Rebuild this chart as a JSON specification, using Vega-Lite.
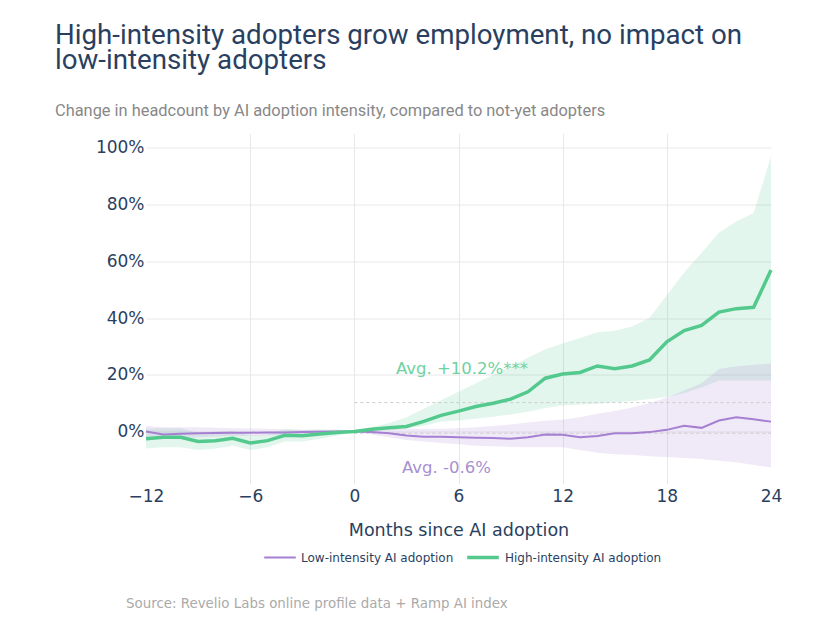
{
  "$schema": "https://vega.github.io/schema/vega-lite/v6.json",
  "background": "white",
  "padding": {"left": 55, "top": 21.5, "right": 10, "bottom": 5},
  "config": {"view": {"stroke": null}, "font": "DejaVu Sans"},
  "title": {"text": "Source: Revelio Labs online profile data + Ramp AI index", "orient": "bottom", "anchor": "start", "frame": "group", "font": "DejaVu Sans", "fontSize": 13.4, "fontWeight": "normal", "color": "#aaaaaa", "offset": 32, "dx": -20},
  "resolve": {"scale": {"color": "independent", "strokeWidth": "independent"}, "legend": {"color": "independent", "strokeWidth": "independent"}},
  "datasets": {
    "d": [
      {"m": -12, "s": "Low-intensity AI adoption", "v": 0, "lo": -2, "hi": 2},
      {"m": -11, "s": "Low-intensity AI adoption", "v": -1, "lo": -2.5, "hi": 1.5},
      {"m": -10, "s": "Low-intensity AI adoption", "v": -0.8, "lo": -2.2, "hi": 1.5},
      {"m": -9, "s": "Low-intensity AI adoption", "v": -0.6, "lo": -2, "hi": 1.5},
      {"m": -8, "s": "Low-intensity AI adoption", "v": -0.5, "lo": -1.8, "hi": 1.3},
      {"m": -7, "s": "Low-intensity AI adoption", "v": -0.4, "lo": -1.6, "hi": 1.2},
      {"m": -6, "s": "Low-intensity AI adoption", "v": -0.4, "lo": -1.6, "hi": 1.1},
      {"m": -5, "s": "Low-intensity AI adoption", "v": -0.3, "lo": -1.4, "hi": 1},
      {"m": -4, "s": "Low-intensity AI adoption", "v": -0.3, "lo": -1.3, "hi": 0.8},
      {"m": -3, "s": "Low-intensity AI adoption", "v": -0.2, "lo": -1.1, "hi": 0.7},
      {"m": -2, "s": "Low-intensity AI adoption", "v": -0.1, "lo": -0.9, "hi": 0.6},
      {"m": -1, "s": "Low-intensity AI adoption", "v": 0, "lo": -0.5, "hi": 0.4},
      {"m": 0, "s": "Low-intensity AI adoption", "v": 0, "lo": 0, "hi": 0},
      {"m": 1, "s": "Low-intensity AI adoption", "v": -0.2, "lo": -1, "hi": 0.5},
      {"m": 2, "s": "Low-intensity AI adoption", "v": -0.6, "lo": -2, "hi": 0.8},
      {"m": 3, "s": "Low-intensity AI adoption", "v": -1.4, "lo": -3, "hi": 1},
      {"m": 4, "s": "Low-intensity AI adoption", "v": -1.8, "lo": -3.5, "hi": 1},
      {"m": 5, "s": "Low-intensity AI adoption", "v": -1.8, "lo": -4, "hi": 1},
      {"m": 6, "s": "Low-intensity AI adoption", "v": -2, "lo": -4.5, "hi": 1.2},
      {"m": 7, "s": "Low-intensity AI adoption", "v": -2.2, "lo": -5, "hi": 1.5},
      {"m": 8, "s": "Low-intensity AI adoption", "v": -2.3, "lo": -5.2, "hi": 2},
      {"m": 9, "s": "Low-intensity AI adoption", "v": -2.5, "lo": -5.4, "hi": 2.5},
      {"m": 10, "s": "Low-intensity AI adoption", "v": -2, "lo": -5.5, "hi": 3.2},
      {"m": 11, "s": "Low-intensity AI adoption", "v": -1, "lo": -5.5, "hi": 3.8},
      {"m": 12, "s": "Low-intensity AI adoption", "v": -1.1, "lo": -5.5, "hi": 4.2},
      {"m": 13, "s": "Low-intensity AI adoption", "v": -2, "lo": -6.5, "hi": 5},
      {"m": 14, "s": "Low-intensity AI adoption", "v": -1.6, "lo": -7.5, "hi": 6.3},
      {"m": 15, "s": "Low-intensity AI adoption", "v": -0.6, "lo": -8, "hi": 7.2},
      {"m": 16, "s": "Low-intensity AI adoption", "v": -0.6, "lo": -8.3, "hi": 8.5},
      {"m": 17, "s": "Low-intensity AI adoption", "v": -0.2, "lo": -8.7, "hi": 10},
      {"m": 18, "s": "Low-intensity AI adoption", "v": 0.6, "lo": -9, "hi": 12},
      {"m": 19, "s": "Low-intensity AI adoption", "v": 2, "lo": -9.3, "hi": 14.5},
      {"m": 20, "s": "Low-intensity AI adoption", "v": 1.3, "lo": -9.7, "hi": 17},
      {"m": 21, "s": "Low-intensity AI adoption", "v": 3.9, "lo": -10.3, "hi": 22},
      {"m": 22, "s": "Low-intensity AI adoption", "v": 5, "lo": -10.8, "hi": 23},
      {"m": 23, "s": "Low-intensity AI adoption", "v": 4.3, "lo": -11.8, "hi": 23.5},
      {"m": 24, "s": "Low-intensity AI adoption", "v": 3.5, "lo": -12.6, "hi": 24},
      {"m": -12, "s": "High-intensity AI adoption", "v": -2.5, "lo": -6, "hi": 1},
      {"m": -11, "s": "High-intensity AI adoption", "v": -2, "lo": -5.5, "hi": 1.2},
      {"m": -10, "s": "High-intensity AI adoption", "v": -2, "lo": -5.5, "hi": 1.2},
      {"m": -9, "s": "High-intensity AI adoption", "v": -3.5, "lo": -6.5, "hi": -0.5},
      {"m": -8, "s": "High-intensity AI adoption", "v": -3.2, "lo": -6, "hi": 0},
      {"m": -7, "s": "High-intensity AI adoption", "v": -2.4, "lo": -5, "hi": 0.3},
      {"m": -6, "s": "High-intensity AI adoption", "v": -4, "lo": -6.5, "hi": -1.5},
      {"m": -5, "s": "High-intensity AI adoption", "v": -3.2, "lo": -5.5, "hi": -1},
      {"m": -4, "s": "High-intensity AI adoption", "v": -1.3, "lo": -3.5, "hi": 0.8},
      {"m": -3, "s": "High-intensity AI adoption", "v": -1.5, "lo": -3.5, "hi": 0.5},
      {"m": -2, "s": "High-intensity AI adoption", "v": -0.9, "lo": -2.5, "hi": 0.7},
      {"m": -1, "s": "High-intensity AI adoption", "v": -0.3, "lo": -1.5, "hi": 0.8},
      {"m": 0, "s": "High-intensity AI adoption", "v": 0, "lo": 0, "hi": 0},
      {"m": 1, "s": "High-intensity AI adoption", "v": 0.8, "lo": 0.2, "hi": 1.5},
      {"m": 2, "s": "High-intensity AI adoption", "v": 1.3, "lo": 0.5, "hi": 3},
      {"m": 3, "s": "High-intensity AI adoption", "v": 1.8, "lo": 1, "hi": 5},
      {"m": 4, "s": "High-intensity AI adoption", "v": 3.6, "lo": 2, "hi": 8},
      {"m": 5, "s": "High-intensity AI adoption", "v": 5.7, "lo": 3.5, "hi": 11},
      {"m": 6, "s": "High-intensity AI adoption", "v": 7.2, "lo": 3.9, "hi": 14},
      {"m": 7, "s": "High-intensity AI adoption", "v": 8.8, "lo": 4.5, "hi": 17},
      {"m": 8, "s": "High-intensity AI adoption", "v": 10, "lo": 5.2, "hi": 20},
      {"m": 9, "s": "High-intensity AI adoption", "v": 11.4, "lo": 6, "hi": 23},
      {"m": 10, "s": "High-intensity AI adoption", "v": 14, "lo": 7, "hi": 26},
      {"m": 11, "s": "High-intensity AI adoption", "v": 18.8, "lo": 8.3, "hi": 29},
      {"m": 12, "s": "High-intensity AI adoption", "v": 20.3, "lo": 9.2, "hi": 31},
      {"m": 13, "s": "High-intensity AI adoption", "v": 20.8, "lo": 9.5, "hi": 33},
      {"m": 14, "s": "High-intensity AI adoption", "v": 23.1, "lo": 9.8, "hi": 35},
      {"m": 15, "s": "High-intensity AI adoption", "v": 22.1, "lo": 10.3, "hi": 35.5},
      {"m": 16, "s": "High-intensity AI adoption", "v": 23.1, "lo": 10.8, "hi": 37},
      {"m": 17, "s": "High-intensity AI adoption", "v": 25.2, "lo": 11.5, "hi": 40},
      {"m": 18, "s": "High-intensity AI adoption", "v": 31.6, "lo": 12.2, "hi": 48},
      {"m": 19, "s": "High-intensity AI adoption", "v": 35.6, "lo": 13.5, "hi": 56},
      {"m": 20, "s": "High-intensity AI adoption", "v": 37.4, "lo": 15.5, "hi": 63},
      {"m": 21, "s": "High-intensity AI adoption", "v": 42.1, "lo": 18, "hi": 70},
      {"m": 22, "s": "High-intensity AI adoption", "v": 43.3, "lo": 18, "hi": 74},
      {"m": 23, "s": "High-intensity AI adoption", "v": 43.8, "lo": 18, "hi": 77},
      {"m": 24, "s": "High-intensity AI adoption", "v": 56.9, "lo": 18, "hi": 97}
    ],
    "avg": [
      {"x0": 0, "x1": 24, "y": 10.2},
      {"x0": 0, "x1": 24, "y": -0.6}
    ],
    "notes": [
      {"m": 6.2, "y": 22.2, "label": "Avg. +10.2%***", "s": "High"},
      {"m": 5.3, "y": -13, "label": "Avg. -0.6%", "s": "Low"}
    ]
  },
  "vconcat": [
    {
      "width": 625,
      "height": 350,
      "title": {
        "text": ["High-intensity adopters grow employment, no impact on", "low-intensity adopters"],
        "subtitle": "Change in headcount by AI adoption intensity, compared to not-yet adopters",
        "anchor": "start",
        "frame": "group",
        "dx": -91,
        "font": "Roboto",
        "fontSize": 27.7,
        "fontWeight": "normal",
        "color": "#2a3f5f",
        "lineHeight": 25,
        "subtitleFont": "Roboto",
        "subtitleFontSize": 16.4,
        "subtitleColor": "#888888",
        "subtitlePadding": 28.5,
        "offset": 14
      },
      "layer": [
        {
          "data": {"name": "d"},
          "transform": [{"filter": "datum.s === 'High-intensity AI adoption'"}],
          "mark": {"type": "area", "color": "#53c98e", "fillOpacity": 0.16, "strokeWidth": 0},
          "encoding": {
            "x": {"field": "m", "type": "quantitative", "scale": {"domain": [-12, 24], "nice": false, "zero": false},
              "axis": {"title": "Months since AI adoption", "values": [-12, -6, 0, 6, 12, 18, 24], "format": "d", "grid": true,
                "gridColor": {"condition": {"test": "datum.value === -12 || datum.value === 24", "value": "transparent"}, "value": "#e8e8e8"},
                "domain": false, "ticks": false, "labelFlush": false, "labelFont": "DejaVu Sans", "labelFontSize": 17, "labelColor": "#2a3f5f", "labelPadding": 5, "titleFont": "DejaVu Sans", "titleFontSize": 17.5, "titleFontWeight": "normal", "titleColor": "#2a3f5f", "titlePadding": 17}},
            "y": {"field": "lo", "type": "quantitative", "scale": {"domain": [-18.3, 105], "nice": false, "zero": false},
              "axis": {"title": null, "values": [0, 20, 40, 60, 80, 100], "labelExpr": "datum.value + '%'", "grid": true, "gridColor": "#e8e8e8", "domain": false, "ticks": false, "labelFont": "DejaVu Sans", "labelFontSize": 17, "labelColor": "#2a3f5f", "labelPadding": 2}},
            "y2": {"field": "hi"}
          }
        },
        {
          "data": {"name": "d"},
          "transform": [{"filter": "datum.s === 'Low-intensity AI adoption'"}],
          "mark": {"type": "area", "color": "#a57fd1", "fillOpacity": 0.17, "strokeWidth": 0},
          "encoding": {
            "x": {"field": "m", "type": "quantitative"},
            "y": {"field": "lo", "type": "quantitative"},
            "y2": {"field": "hi"}
          }
        },
        {
          "mark": {"type": "rule", "color": "#9a9a9a", "strokeWidth": 1.5},
          "encoding": {"y": {"datum": 0}}
        },
        {
          "data": {"name": "avg"},
          "mark": {"type": "rule", "color": "#cccccc", "strokeWidth": 1, "strokeDash": [3, 3]},
          "encoding": {"x": {"field": "x0", "type": "quantitative"}, "x2": {"field": "x1"}, "y": {"field": "y", "type": "quantitative"}}
        },
        {
          "mark": {"type": "rule", "color": "#999999", "strokeWidth": 1.5, "strokeDash": [7, 4]},
          "encoding": {"x": {"datum": 0}}
        },
        {
          "data": {"name": "d"},
          "mark": {"type": "line"},
          "encoding": {
            "x": {"field": "m", "type": "quantitative"},
            "y": {"field": "v", "type": "quantitative"},
            "color": {"field": "s", "type": "nominal", "scale": {"domain": ["Low-intensity AI adoption", "High-intensity AI adoption"], "range": ["#a57fd1", "#53c98e"]},
              "legend": {"title": null, "orient": "none", "legendX": 117, "legendY": 406, "direction": "horizontal", "symbolType": "stroke", "symbolSize": 1000, "labelFont": "DejaVu Sans", "labelFontSize": 12, "labelColor": "#2a3f5f", "columnPadding": 6}},
            "strokeWidth": {"field": "s", "type": "nominal", "scale": {"domain": ["Low-intensity AI adoption", "High-intensity AI adoption"], "range": [2, 3.5]},
              "legend": {"title": null, "orient": "none", "legendX": 117, "legendY": 406, "direction": "horizontal", "symbolType": "stroke", "symbolSize": 1000, "labelFont": "DejaVu Sans", "labelFontSize": 12, "labelColor": "#2a3f5f", "columnPadding": 6}},
            "order": {"field": "m"}
          }
        },
        {
          "data": {"name": "notes"},
          "transform": [{"filter": "datum.s === 'High'"}],
          "mark": {"type": "text", "font": "DejaVu Sans", "fontSize": 16.5, "align": "center", "baseline": "middle", "color": "#6fd1a0"},
          "encoding": {
            "x": {"field": "m", "type": "quantitative"},
            "y": {"field": "y", "type": "quantitative"},
            "text": {"field": "label"}
          }
        },
        {
          "data": {"name": "notes"},
          "transform": [{"filter": "datum.s === 'Low'"}],
          "mark": {"type": "text", "font": "DejaVu Sans", "fontSize": 16.5, "align": "center", "baseline": "middle", "color": "#a88fd0"},
          "encoding": {
            "x": {"field": "m", "type": "quantitative"},
            "y": {"field": "y", "type": "quantitative"},
            "text": {"field": "label"}
          }
        }
      ]
    }
  ]
}
